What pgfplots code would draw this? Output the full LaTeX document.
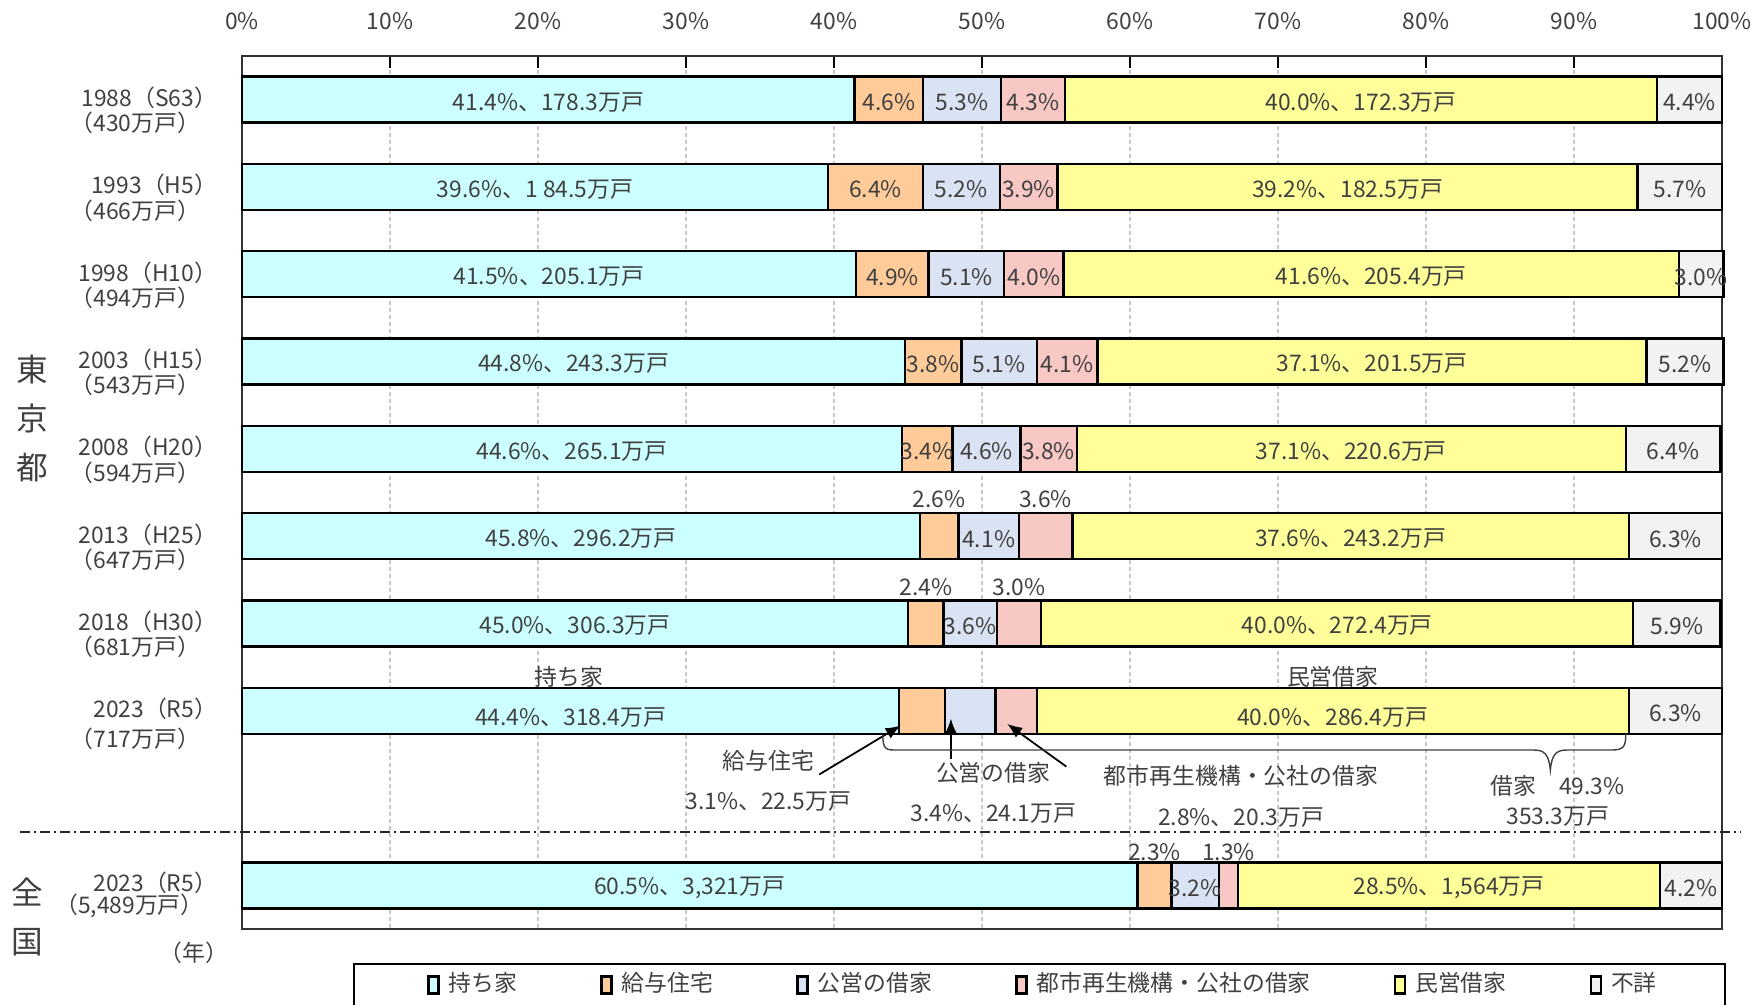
\documentclass[border=0pt]{standalone}
\usepackage{fontspec}
\setmainfont{Noto Sans CJK JP}
\usepackage{pgfplots}
\pgfplotsset{compat=1.18}
\usetikzlibrary{arrows.meta}
\definecolor{own}{HTML}{CCFFFF}
\definecolor{kyuyo}{HTML}{FFCC99}
\definecolor{koei}{HTML}{DAE3F3}
\definecolor{ur}{HTML}{F8C9C4}
\definecolor{minei}{HTML}{FFFF99}
\definecolor{fusho}{HTML}{F2F2F2}
\definecolor{txt}{HTML}{404040}

\newcommand{\lab}[3]{\node[txt, yshift=-0.025cm] at (axis cs:#1,#2) {#3};}
\newcommand{\yr}[4]{% row, line1, line2, y of line2
  \node[txt,anchor=east] at (axis cs:-0.85,#1-0.02) {#2};
  \node[txt,anchor=east] at (axis cs:-2.0,#4) {#3};}

% labels on top of the bars (drawn after the stacked plots)
\newcommand{\barlabels}{%
\lab{20.7}{0}{41.4\%、178.3万戸}\lab{43.7}{0}{4.6\%}\lab{48.65}{0}{5.3\%}\lab{53.45}{0}{4.3\%}\lab{75.6}{0}{40.0\%、172.3万戸}\lab{97.8}{0}{4.4\%}
\lab{19.8}{1}{39.6\%、1 84.5万戸}\lab{42.8}{1}{6.4\%}\lab{48.6}{1}{5.2\%}\lab{53.15}{1}{3.9\%}\lab{74.7}{1}{39.2\%、182.5万戸}\lab{97.15}{1}{5.7\%}
\lab{20.75}{2}{41.5\%、205.1万戸}\lab{43.95}{2}{4.9\%}\lab{48.95}{2}{5.1\%}\lab{53.5}{2}{4.0\%}\lab{76.3}{2}{41.6\%、205.4万戸}\lab{98.6}{2}{3.0\%}
\lab{22.4}{3}{44.8\%、243.3万戸}\lab{46.7}{3}{3.8\%}\lab{51.15}{3}{5.1\%}\lab{55.75}{3}{4.1\%}\lab{76.35}{3}{37.1\%、201.5万戸}\lab{97.5}{3}{5.2\%}
\lab{22.3}{4}{44.6\%、265.1万戸}\lab{46.3}{4}{3.4\%}\lab{50.3}{4}{4.6\%}\lab{54.5}{4}{3.8\%}\lab{74.95}{4}{37.1\%、220.6万戸}\lab{96.7}{4}{6.4\%}
\lab{22.9}{5}{45.8\%、296.2万戸}\lab{47.1}{4.55}{2.6\%}\lab{50.45}{5}{4.1\%}\lab{54.3}{4.55}{3.6\%}\lab{74.9}{5}{37.6\%、243.2万戸}\lab{96.85}{5}{6.3\%}
\lab{22.5}{6}{45.0\%、306.3万戸}\lab{46.2}{5.55}{2.4\%}\lab{49.2}{6}{3.6\%}\lab{52.5}{5.55}{3.0\%}\lab{74.0}{6}{40.0\%、272.4万戸}\lab{96.95}{6}{5.9\%}
\lab{22.2}{7.05}{44.4\%、318.4万戸}\lab{73.7}{7.05}{40.0\%、286.4万戸}\lab{96.85}{7}{6.3\%}
\lab{22.1}{6.58}{持ち家}\lab{73.7}{6.58}{民営借家}
\lab{30.25}{9}{60.5\%、3,321万戸}\lab{61.65}{8.59}{2.3\%}\lab{64.4}{9}{3.2\%}\lab{66.65}{8.59}{1.3\%}\lab{81.55}{9}{28.5\%、1,564万戸}\lab{97.9}{9}{4.2\%}
% callouts for 2023
\lab{35.56}{7.55}{給与住宅}\lab{35.56}{8.01}{3.1\%、22.5万戸}
\lab{50.76}{7.68}{公営の借家}\lab{50.76}{8.15}{3.4\%、24.1万戸}
\lab{67.5}{7.72}{都市再生機構・公社の借家}\lab{67.5}{8.19}{2.8\%、20.3万戸}
\lab{88.9}{7.83}{借家　49.3\%}\lab{88.9}{8.18}{353.3万戸}
\draw[black, line width=0.5pt, -{Latex[length=0.15cm,width=0.12cm]}] (axis cs:39.0,7.73) -- (axis cs:44.5,7.17);
\draw[black, line width=0.5pt, -{Latex[length=0.15cm,width=0.12cm]}] (axis cs:47.9,7.55) -- (axis cs:47.9,7.09);
\draw[black, line width=0.5pt, -{Latex[length=0.15cm,width=0.12cm]}] (axis cs:55.7,7.64) -- (axis cs:51.7,7.15);
\draw[txt, line width=0.4pt] (axis cs:43.3,7.27) .. controls (axis cs:43.3,7.45) and (axis cs:43.5,7.45) .. (axis cs:44.3,7.45)
  -- (axis cs:87.3,7.45) .. controls (axis cs:88.0,7.45) and (axis cs:88.3,7.5) .. (axis cs:88.4,7.68)
  .. controls (axis cs:88.5,7.5) and (axis cs:88.8,7.45) .. (axis cs:89.5,7.45)
  -- (axis cs:92.5,7.45) .. controls (axis cs:93.3,7.45) and (axis cs:93.5,7.42) .. (axis cs:93.5,7.27);
}

\begin{document}
\begin{tikzpicture}[font=\fontsize{6.5}{7.6}\selectfont]
\useasboundingbox (0,0) rectangle (17.64,10.05);
\clip (0,0) rectangle (17.64,10.05);
\begin{axis}[
  at={(2.42cm,0.76cm)}, anchor=south west,
  scale only axis, width=14.8cm, height=8.73cm,
  xbar stacked, bar width=0.46cm,
  xmin=0, xmax=100, ymin=-0.5, ymax=9.5, y dir=reverse,
  ytick=\empty,
  xtick={0,10,...,100},
  xticklabels={0\%,10\%,20\%,30\%,40\%,50\%,60\%,70\%,80\%,90\%,100\%},
  xticklabel pos=upper, xtick pos=upper, tick align=inside,
  major tick length=0.12cm,
  xmajorgrids, grid style={gray!45, line width=0.3pt, dash pattern=on 0.04cm off 0.03cm},
  axis line style={black!80, line width=0.5pt},
  tick style={black, line width=0.5pt},
  xticklabel style={text=txt, yshift=0.14cm},
  clip=false,
  extra description/.code={\barlabels},
  legend columns=6,
  legend style={at={(axis cs:54.3,10.14)}, anchor=center, draw=none, fill=none,
    text=txt, font=\fontsize{6.5}{7.6}\selectfont,
    /tikz/every even column/.append style={column sep=0.76cm},
    /tikz/every odd column/.append style={column sep=0.02cm}},
  legend image code/.code={\draw[#1, line width=0.7pt] (0cm,-0.085cm) rectangle (0.1cm,0.085cm);},
]
% 持ち家
\addplot[fill=own, draw=black, line width=0.7pt] coordinates {
  (41.4,0) (39.6,1) (41.5,2) (44.8,3) (44.6,4) (45.8,5) (45.0,6) (44.4,7) (60.5,9)};
\addlegendentry{持ち家}
% 給与住宅
\addplot[fill=kyuyo, draw=black, line width=0.7pt] coordinates {
  (4.6,0) (6.4,1) (4.9,2) (3.8,3) (3.4,4) (2.6,5) (2.4,6) (3.1,7) (2.3,9)};
\addlegendentry{給与住宅}
% 公営の借家
\addplot[fill=koei, draw=black, line width=0.7pt] coordinates {
  (5.3,0) (5.2,1) (5.1,2) (5.1,3) (4.6,4) (4.1,5) (3.6,6) (3.4,7) (3.2,9)};
\addlegendentry{公営の借家}
% 都市再生機構・公社の借家
\addplot[fill=ur, draw=black, line width=0.7pt] coordinates {
  (4.3,0) (3.9,1) (4.0,2) (4.1,3) (3.8,4) (3.6,5) (3.0,6) (2.8,7) (1.3,9)};
\addlegendentry{都市再生機構・公社の借家}
% 民営借家
\addplot[fill=minei, draw=black, line width=0.7pt] coordinates {
  (40.0,0) (39.2,1) (41.6,2) (37.1,3) (37.1,4) (37.6,5) (40.0,6) (40.0,7) (28.5,9)};
\addlegendentry{民営借家}
% 不詳
\addplot[fill=fusho, draw=black, line width=0.7pt] coordinates {
  (4.4,0) (5.7,1) (3.0,2) (5.2,3) (6.4,4) (6.3,5) (5.9,6) (6.3,7) (4.2,9)};
\addlegendentry{不詳}

% separator
\draw[black!85, line width=0.6pt, dash pattern=on 0.1cm off 0.04cm on 0.02cm off 0.04cm] (axis cs:-15,8.385) -- (axis cs:101.3,8.385);

% row labels
\yr{0}{1988（S63）}{（430万戸）}{0.27}
\yr{1}{1993（H5）}{（466万戸）}{1.27}
\yr{2}{1998（H10）}{（494万戸）}{2.27}
\yr{3}{2003（H15）}{（543万戸）}{3.27}
\yr{4}{2008（H20）}{（594万戸）}{4.27}
\yr{5}{2013（H25）}{（647万戸）}{5.27}
\yr{6}{2018（H30）}{（681万戸）}{6.27}
\yr{7}{2023（R5）}{（717万戸）}{7.32}
\node[txt,anchor=east] at (axis cs:-0.85,8.97) {2023（R5）};
\node[txt,anchor=east] at (axis cs:-1.75,9.24) {（5,489万戸）};
\node[txt] at (axis cs:-3.27,9.77) {（年）};
\node[txt, font=\fontsize{9}{10}\selectfont] at (axis cs:-14.2,3.09) {東};
\node[txt, font=\fontsize{9}{10}\selectfont] at (axis cs:-14.2,3.65) {京};
\node[txt, font=\fontsize{9}{10}\selectfont] at (axis cs:-14.2,4.21) {都};
\node[txt, font=\fontsize{9}{10}\selectfont] at (axis cs:-14.5,9.08) {全};
\node[txt, font=\fontsize{9}{10}\selectfont] at (axis cs:-14.5,9.65) {国};

% legend frame
\draw[black, line width=0.6pt] (axis cs:7.57,9.9) rectangle (axis cs:100.2,10.6);
\end{axis}
\end{tikzpicture}
\end{document}
